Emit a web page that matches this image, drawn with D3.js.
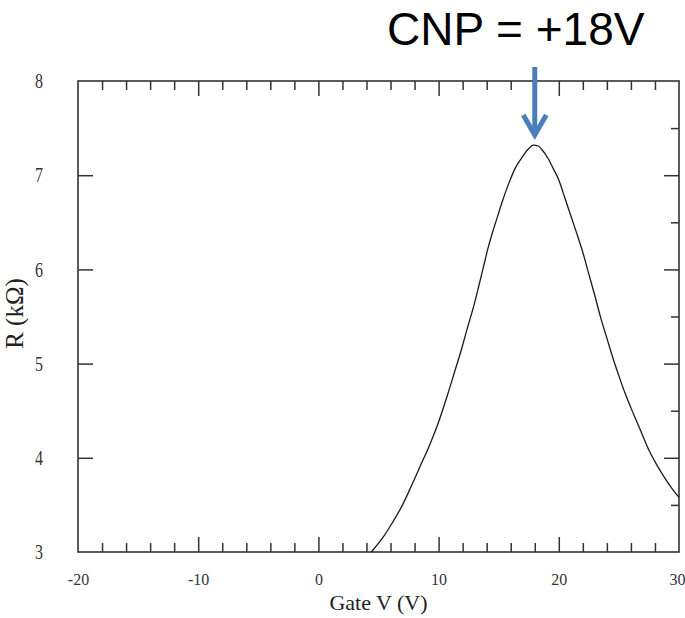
<!DOCTYPE html>
<html>
<head>
<meta charset="utf-8">
<script src="https://cdn.jsdelivr.net/npm/d3@7"></script>
<style>
  html, body { margin: 0; padding: 0; background: #fff; }
  svg { display: block; }
</style>
</head>
<body>
<svg id="chart" width="685" height="618"></svg>
<script>
// ---- data ----
const gateV = [4.4, 5.4, 6.1, 7.0, 7.8, 8.5, 9.3, 10.0, 10.7, 11.3, 11.9, 12.4, 12.9, 13.3, 13.7, 14.1, 14.5, 14.9, 15.3, 15.8, 16.4, 17.0, 17.4, 17.9, 18.3, 18.6, 19.1, 19.5, 20.0, 20.5, 21.0, 21.5, 22.0, 22.5, 23.0, 23.5, 24.0, 24.5, 25.0, 25.5, 26.0, 26.5, 27.0, 27.5, 28.0, 28.5, 29.0, 29.5, 30.0];
const resistance = [3.00, 3.16, 3.30, 3.50, 3.72, 3.92, 4.15, 4.38, 4.65, 4.90, 5.15, 5.38, 5.60, 5.80, 6.01, 6.22, 6.40, 6.56, 6.72, 6.90, 7.08, 7.20, 7.27, 7.32, 7.31, 7.27, 7.18, 7.08, 6.95, 6.76, 6.57, 6.38, 6.18, 5.95, 5.72, 5.48, 5.27, 5.06, 4.87, 4.69, 4.53, 4.38, 4.23, 4.08, 3.96, 3.85, 3.75, 3.66, 3.58];
const xMajorTicks = [-20, -10, 0, 10, 20, 30];
const xMinorTicks = [-18, -16, -14, -12, -8, -6, -4, -2, 2, 4, 6, 8, 12, 14, 16, 18, 22, 24, 26, 28];
const yMajorTicks = [3, 4, 5, 6, 7, 8];
const yMinorTicks = [3.5, 4.5, 5.5, 6.5, 7.5];
const cnpVoltage = 18;
const annotationText = "CNP = +18V";
const xTitle = "Gate V (V)";
const yTitle = "R (k\u03A9)";

// ---- layout ----
const margin = { left: 78, top: 81, right: 6, bottom: 66 };
const W = 685, H = 618;
const iw = W - margin.left - margin.right; // 601
const ih = H - margin.top - margin.bottom; // 471

const svg = d3.select("#chart");
const g = svg.append("g").attr("transform", `translate(${margin.left},${margin.top})`);

const x = d3.scaleLinear().domain([-20, 30]).range([0, iw]);
const y = d3.scaleLinear().domain([3, 8]).range([ih, 0]);

const axisColor = "#333";
const serif = "'Liberation Serif', 'Times New Roman', serif";
const plainFmt = d => String(d);

function styleAxis(sel) {
  sel.select(".domain").remove();
  sel.selectAll(".tick line").attr("stroke", axisColor).attr("stroke-width", 1.5);
}

// bottom axis: major with labels, minor without
const bottomMajor = g.append("g").attr("transform", `translate(0,${ih})`)
  .call(d3.axisBottom(x).tickValues(xMajorTicks).tickSizeInner(-15).tickSizeOuter(0).tickPadding(33).tickFormat(plainFmt));
styleAxis(bottomMajor);
bottomMajor.selectAll(".tick text")
  .attr("font-family", serif).attr("font-size", 16).attr("fill", "#333")
  .attr("dy", 0);
bottomMajor.selectAll(".tick").filter(d => d === -20 || d === 30).select("line").remove();
// keep the last label inside the picture
bottomMajor.selectAll(".tick").filter(d => d === 30).select("text")
  .attr("text-anchor", "end").attr("x", W - margin.left - iw);

const bottomMinor = g.append("g").attr("transform", `translate(0,${ih})`)
  .call(d3.axisBottom(x).tickValues(xMinorTicks).tickSizeInner(-9).tickSizeOuter(0).tickFormat(""));
styleAxis(bottomMinor);

// top axis
const topMajor = g.append("g")
  .call(d3.axisTop(x).tickValues(xMajorTicks.filter(d => d > -20 && d < 30)).tickSizeInner(-15).tickSizeOuter(0).tickFormat(""));
styleAxis(topMajor);
const topMinor = g.append("g")
  .call(d3.axisTop(x).tickValues(xMinorTicks).tickSizeInner(-9).tickSizeOuter(0).tickFormat(""));
styleAxis(topMinor);

// left axis (major only, with labels)
const leftAxis = g.append("g")
  .call(d3.axisLeft(y).tickValues(yMajorTicks).tickSizeInner(-15).tickSizeOuter(0).tickPadding(39).tickFormat(plainFmt));
styleAxis(leftAxis);
leftAxis.selectAll(".tick").filter(d => d === 3 || d === 8).select("line").remove();
leftAxis.selectAll(".tick text")
  .attr("font-family", serif).attr("font-size", 16).attr("fill", "#333")
  .attr("text-anchor", "middle")
  .attr("transform", "scale(1,1.3)");

// right axis
const rightMajor = g.append("g").attr("transform", `translate(${iw},0)`)
  .call(d3.axisRight(y).tickValues(yMajorTicks.filter(d => d > 3 && d < 8)).tickSizeInner(-15).tickSizeOuter(0).tickFormat(""));
styleAxis(rightMajor);
const rightMinor = g.append("g").attr("transform", `translate(${iw},0)`)
  .call(d3.axisRight(y).tickValues(yMinorTicks).tickSizeInner(-8).tickSizeOuter(0).tickFormat(""));
styleAxis(rightMinor);

// frame
g.append("rect")
  .attr("x", 0).attr("y", 0).attr("width", iw).attr("height", ih)
  .attr("fill", "none").attr("stroke", axisColor).attr("stroke-width", 1.6);

// curve
const pts = gateV.map((v, i) => [v, resistance[i]]);
g.append("path")
  .datum(pts)
  .attr("fill", "none")
  .attr("stroke", "#1a1a1a")
  .attr("stroke-width", 1.3)
  .attr("d", d3.line().curve(d3.curveMonotoneX).x(d => x(d[0])).y(d => y(d[1])));

// axis titles
svg.append("text")
  .attr("x", margin.left + iw / 2).attr("y", 610)
  .attr("text-anchor", "middle")
  .attr("font-family", serif).attr("font-size", 22).attr("fill", "#222")
  .text(xTitle);

svg.append("text")
  .attr("transform", `translate(23,${margin.top + ih / 2 - 3}) rotate(-90)`)
  .attr("text-anchor", "middle")
  .attr("font-family", serif).attr("font-size", 25).attr("fill", "#222")
  .text(yTitle);

// annotation
const ax = margin.left + x(cnpVoltage);
svg.append("text")
  .attr("x", 387).attr("y", 45)
  .attr("font-family", "'Liberation Sans', Arial, sans-serif")
  .attr("font-size", 46).attr("fill", "#000")
  .text(annotationText);

const blue = "#4A7EBB";
svg.append("line")
  .attr("x1", ax).attr("x2", ax).attr("y1", 67).attr("y2", 134)
  .attr("stroke", blue).attr("stroke-width", 5);
svg.append("path")
  .attr("d", `M${ax - 11.5},${115} L${ax},${135} L${ax + 11.5},${115}`)
  .attr("fill", "none").attr("stroke", blue).attr("stroke-width", 5)
  .attr("stroke-linejoin", "miter");
</script>
</body>
</html>
